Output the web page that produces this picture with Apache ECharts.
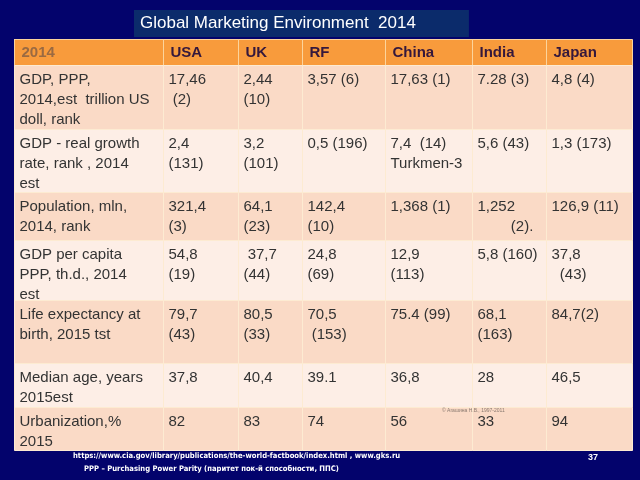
<!DOCTYPE html>
<html><head><meta charset="utf-8">
<script src="https://cdn.jsdelivr.net/npm/echarts@6/dist/echarts.min.js"></script>
<style>html,body{margin:0;padding:0;background:#03036c}#c{width:640px;height:480px}</style>
</head><body><div id="c"></div><script>
const titleText = 'Global Marketing Environment  2014';
const cornerLabel = '2014';
const countries = ['USA', 'UK', 'RF', 'China', 'India', 'Japan'];
const indicators = [
  'GDP, PPP,\n2014,est  trillion US\ndoll, rank',
  'GDP - real growth\nrate, rank , 2014\nest',
  'Population, mln,\n2014, rank',
  'GDP per capita\nPPP, th.d., 2014\nest',
  'Life expectancy at\nbirth, 2015 tst',
  'Median age, years\n2015est',
  'Urbanization,%\n2015'
];
const gdpPPP = ['17,46\n (2)', '2,44\n(10)', '3,57 (6)', '17,63 (1)', '7.28 (3)', '4,8 (4)'];
const gdpGrowth = ['2,4\n(131)', '3,2\n(101)', '0,5 (196)', '7,4  (14)\nTurkmen-3', '5,6 (43)', '1,3 (173)'];
const population = ['321,4\n(3)', '64,1\n(23)', '142,4\n(10)', '1,368 (1)', '1,252\n        (2).', '126,9 (11)'];
const gdpPerCapita = ['54,8\n(19)', ' 37,7\n(44)', '24,8\n(69)', '12,9\n(113)', '5,8 (160)', '37,8\n  (43)'];
const lifeExpectancy = ['79,7\n(43)', '80,5\n(33)', '70,5\n (153)', '75.4 (99)', '68,1\n(163)', '84,7(2)'];
const medianAge = ['37,8', '40,4', '39.1', '36,8', '28', '46,5'];
const urbanization = ['82', '83', '74', '56', '33', '94'];
const sourceNote = 'https://www.cia.gov/library/publications/the-world-factbook/index.html , www.gks.ru';
const pppNote = 'PPP \u2013 Purchasing Power Parity (\u043f\u0430\u0440\u0438\u0442\u0435\u0442 \u043f\u043e\u043a-\u0439 \u0441\u043f\u043e\u0441\u043e\u0431\u043d\u043e\u0441\u0442\u0438, \u041f\u041f\u0421)';
const slideNumber = '37';
const watermark = '\u00a9 \u0410\u0433\u0430\u0448\u0438\u043d\u0430 \u041d.\u0412., 1997-2011';

const rows = [gdpPPP, gdpGrowth, population, gdpPerCapita, lifeExpectancy, medianAge, urbanization];
const colWidths = [75, 64, 83, 87, 74, 86];
const rowHeights = [64, 63, 48, 60, 63, 44, 43];
const PEACH = '#fadac6', LIGHT = '#fdeee6', ORANGE = '#f89b3c', LINE = '#fdebd2';
const FONT = 'Arial, "Liberation Sans", sans-serif';
const NARROW = '"Liberation Sans Narrow", "DejaVu Sans Condensed", Arial';

const cellLabel = {
  color: '#333', fontSize: 15, lineHeight: 20, fontFamily: FONT,
  position: 'insideTopLeft', distance: 2, align: 'left', verticalAlign: 'top',
  overflow: 'none', lineOverflow: 'none'
};
const headLabel = {
  fontSize: 15, fontWeight: 'bold', fontFamily: FONT,
  position: 'insideLeft', distance: 4, align: 'left', verticalAlign: 'middle',
  overflow: 'none'
};

const chart = echarts.init(document.getElementById('c'), null, {renderer: 'canvas'});
chart.setOption({
  backgroundColor: '#03036c',
  title: [
    {text: titleText, left: 134, top: 10, backgroundColor: '#0b2b6b', padding: [4, 53, 4, 6],
     textStyle: {color: '#fff', fontSize: 17, fontWeight: 'normal', fontFamily: FONT, lineHeight: 19}},
    {text: sourceNote, left: 73, top: 451, padding: 0,
     textStyle: {color: '#fff', fontSize: 7.6, fontWeight: 'bold', fontFamily: NARROW, lineHeight: 10}},
    {text: pppNote, left: 84, top: 464, padding: 0,
     textStyle: {color: '#fff', fontSize: 7.6, fontWeight: 'bold', fontFamily: NARROW, lineHeight: 10}},
    {text: slideNumber, left: 588, top: 453, padding: 0,
     textStyle: {color: '#fff', fontSize: 9, fontWeight: 'bold', fontFamily: FONT}},
    {text: watermark, left: 442, top: 408, padding: 0, z: 20,
     textStyle: {color: '#8a7a70', fontSize: 5, fontWeight: 'normal', fontFamily: FONT}}
  ],
  matrix: {
    left: 14, top: 39, width: 618, height: 411,
    backgroundStyle: {color: LIGHT, borderWidth: 0, borderColor: LINE},
    borderZ2: 0,
    x: {
      levelSize: 26,
      data: countries.map((c, i) => ({value: c, size: colWidths[i]})),
      itemStyle: {color: ORANGE, borderColor: '#fcd49c', borderWidth: 1},
      label: Object.assign({color: '#35183c'}, headLabel),
      dividerLineStyle: {color: '#fde3c0', width: 1}
    },
    y: {
      levelSize: 149,
      data: indicators.map((t, i) => ({value: t, size: rowHeights[i],
        itemStyle: {color: i % 2 === 0 ? PEACH : LIGHT}})),
      itemStyle: {borderColor: LINE, borderWidth: 1},
      label: cellLabel,
      dividerLineStyle: {color: LINE, width: 1}
    },
    corner: {
      data: [{coord: [-1, -1], value: cornerLabel}],
      itemStyle: {color: ORANGE, borderColor: '#fcd49c', borderWidth: 1},
      label: Object.assign({color: '#9a6a42'}, headLabel)
    },
    body: {
      data: rows.flatMap((r, ri) => r.map((v, ci) => ({
        coord: [ci, ri], value: v,
        itemStyle: {color: ri % 2 === 0 ? PEACH : LIGHT}
      }))),
      itemStyle: {borderColor: LINE, borderWidth: 1},
      label: cellLabel
    }
  }
});
</script></body></html>
